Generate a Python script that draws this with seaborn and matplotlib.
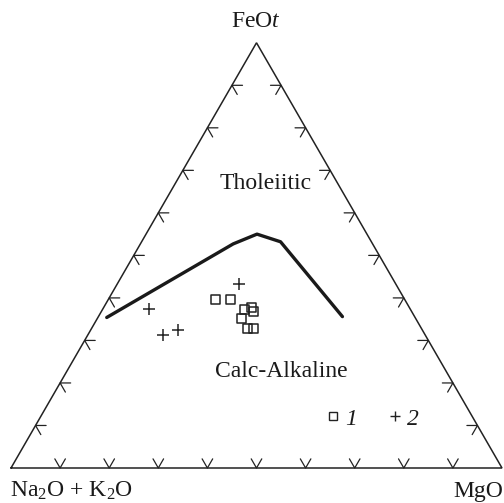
import numpy as np
import pandas as pd
import matplotlib
matplotlib.use("Agg")
import matplotlib.pyplot as plt
import seaborn as sns
from matplotlib.lines import Line2D

# ---- data (ternary compositions, %: A = Na2O+K2O, F = FeOt, M = MgO) ----
sq_A = [38.5, 35.5, 33.8, 32.1, 32.2, 35.5, 35.5, 34.2]
sq_F = [39.7, 39.7, 37.2, 37.8, 36.7, 35.2, 32.7, 32.7]
sq_M = [21.8, 24.8, 29.0, 30.1, 31.1, 29.3, 31.8, 33.1]

pl_A = [31.9, 53.2, 53.3, 49.8]
pl_F = [43.3, 37.4, 31.3, 32.5]
pl_M = [24.8, 9.4, 15.4, 17.7]

bd_A = [62.8, 28.4, 22.4, 18.5, 14.7]
bd_F = [35.4, 52.7, 55.0, 53.2, 35.6]
bd_M = [1.8, 18.9, 22.6, 28.3, 49.7]

tick_fracs = [0.1, 0.2, 0.3, 0.4, 0.5, 0.6, 0.7, 0.8, 0.9]
legend_labels = ["1", "2"]
apex_labels = ["Na$_2$O + K$_2$O", "FeO$t$", "MgO"]
field_labels = ["Tholeiitic", "Calc-Alkaline"]

H = np.sqrt(3) / 2


def to_xy(A, F, M):
    A, F, M = map(lambda v: np.asarray(v, float), (A, F, M))
    s = A + F + M
    f, m = F / s, M / s
    return m + f / 2, f * H


sns.set_theme(style="white")
plt.rcParams["font.family"] = ["Liberation Serif", "DejaVu Serif"]
plt.rcParams["mathtext.fontset"] = "custom"
plt.rcParams["mathtext.rm"] = "Liberation Serif"
plt.rcParams["mathtext.it"] = "Liberation Serif:italic"

W, Hpx = 504, 503
fig = plt.figure(figsize=(W / 100, Hpx / 100), dpi=100)
fig.patch.set_facecolor("white")
ax = fig.add_axes([11 / W, 35 / Hpx, 491 / W, 491 * H / Hpx])
ax.set_xlim(0, 1)
ax.set_ylim(0, H)
ax.axis("off")

# triangle
ax.plot([0, 1, 0.5, 0], [0, 0, H, 0], color="#222222", lw=1.1, clip_on=False,
        solid_joinstyle="miter")

# ticks (chevrons pointing into the triangle)
L = 0.0215
c60, s60 = 0.5, H
for t in tick_fracs:
    # bottom
    px, py = t, 0
    ax.plot([px - L * c60, px, px + L * c60], [L * s60, 0, L * s60],
            color="#222222", lw=0.9, clip_on=False)
    # left edge
    px, py = 0.5 * t, H * t
    ax.plot([px + L, px, px + L * c60], [py, py, py - L * s60],
            color="#222222", lw=0.9, clip_on=False)
    # right edge
    px, py = 1 - 0.5 * t, H * t
    ax.plot([px - L, px, px - L * c60], [py, py, py - L * s60],
            color="#222222", lw=0.9, clip_on=False)

# boundary line
bx, by = to_xy(bd_A, bd_F, bd_M)
sns.lineplot(x=bx, y=by, sort=False, color="#1a1a1a", lw=2.4, ax=ax,
             estimator=None)

# samples
sx, sy = to_xy(sq_A, sq_F, sq_M)
sns.scatterplot(x=sx, y=sy, marker="s", s=42, ax=ax, color="black",
                linewidth=1.1)
ax.collections[-1].set_facecolor("none")
ax.collections[-1].set_edgecolor("#222222")

qx, qy = to_xy(pl_A, pl_F, pl_M)
sns.scatterplot(x=qx, y=qy, marker="+", s=64, ax=ax, color="#222222",
                linewidth=1.1)

# texts
fs = 17
def ftext(x, y, s, **kw):
    fig.text(x / W, 1 - y / Hpx, s, fontsize=fs, color="#1a1a1a", **kw)

ftext(256, 27, apex_labels[1], ha="center", va="baseline")
ftext(10, 497, apex_labels[0], ha="left", va="baseline")
ftext(503, 497, apex_labels[2], ha="right", va="baseline")
ftext(266, 189, field_labels[0], ha="center", va="baseline")
ftext(281, 377, field_labels[1], ha="center", va="baseline")

# legend
handles = [
    Line2D([], [], ls="none", marker="s", markersize=5.2, mfc="none",
           mec="#222222", mew=1.0),
    Line2D([], [], ls="none", marker="+", markersize=7.5, mec="#222222",
           mew=1.0),
]
leg = fig.legend(handles, legend_labels, ncol=2, frameon=False,
                 loc="center left", bbox_to_anchor=(312 / W, 1 - 419 / Hpx),
                 borderpad=0, handlelength=0.8, handletextpad=0.1,
                 columnspacing=1.2, prop={"size": fs, "style": "italic"})
for tx in leg.get_texts():
    tx.set_color("#1a1a1a")

fig.savefig("out.png", dpi=100)
